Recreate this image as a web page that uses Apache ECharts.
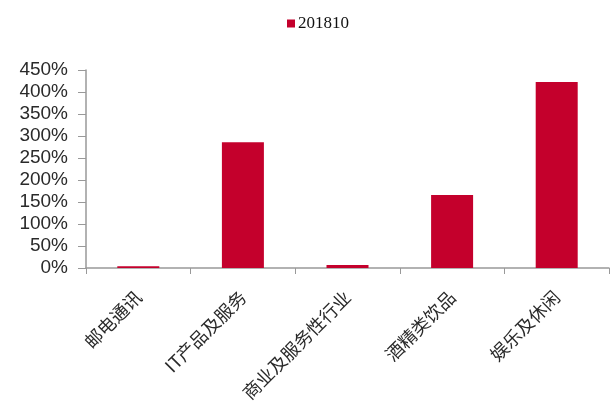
<!DOCTYPE html>
<html>
<head>
<meta charset="utf-8">
<script src="https://cdn.jsdelivr.net/npm/echarts@6/dist/echarts.min.js"></script>
<style>html,body{margin:0;padding:0;background:#fff;}#c{width:610px;height:414px;}</style>
</head>
<body>
<div id="c"></div>
<script>
var categories = ['邮电通讯', 'IT产品及服务', '商业及服务性行业', '酒精类饮品', '娱乐及休闲'];
var seriesName = '201810';
var values = [4, 286, 7, 166, 423];
var yTicks = [0, 50, 100, 150, 200, 250, 300, 350, 400, 450];

var chart = echarts.init(document.getElementById('c'));
chart.setOption({
  animation: false,
  backgroundColor: '#fff',
  legend: {
    data: [{ name: seriesName, icon: 'rect' }],
    top: 10,
    left: 282,
    itemWidth: 8,
    itemHeight: 8,
    itemGap: 4,
    textStyle: { fontFamily: 'Liberation Serif', fontSize: 17, color: '#111', padding: [0, 0, 0, -2] }
  },
  grid: { left: 86, right: 1, top: 70, bottom: 146 },
  xAxis: {
    type: 'category',
    data: categories,
    axisLine: { lineStyle: { color: '#999', width: 1.5 } },
    axisTick: { show: true, length: 6, alignWithLabel: false, lineStyle: { color: '#999' } },
    axisLabel: {
      rotate: 45,
      interval: 0,
      margin: 26,
      fontFamily: 'Noto Sans CJK SC',
      fontSize: 18,
      color: '#2a2a2a'
    }
  },
  yAxis: {
    type: 'value',
    min: yTicks[0],
    max: yTicks[yTicks.length - 1],
    interval: 50,
    splitLine: { show: false },
    axisLine: { show: true, lineStyle: { color: '#999', width: 1.5 } },
    axisTick: { show: true, length: 8, lineStyle: { color: '#999' } },
    axisLabel: {
      formatter: '{value}%',
      margin: 18,
      fontFamily: 'Liberation Sans',
      fontSize: 19,
      color: '#2a2a2a'
    }
  },
  series: [{
    name: seriesName,
    type: 'bar',
    data: values,
    barWidth: 42,
    itemStyle: { color: '#C4002C' }
  }]
});
</script>
</body>
</html>
